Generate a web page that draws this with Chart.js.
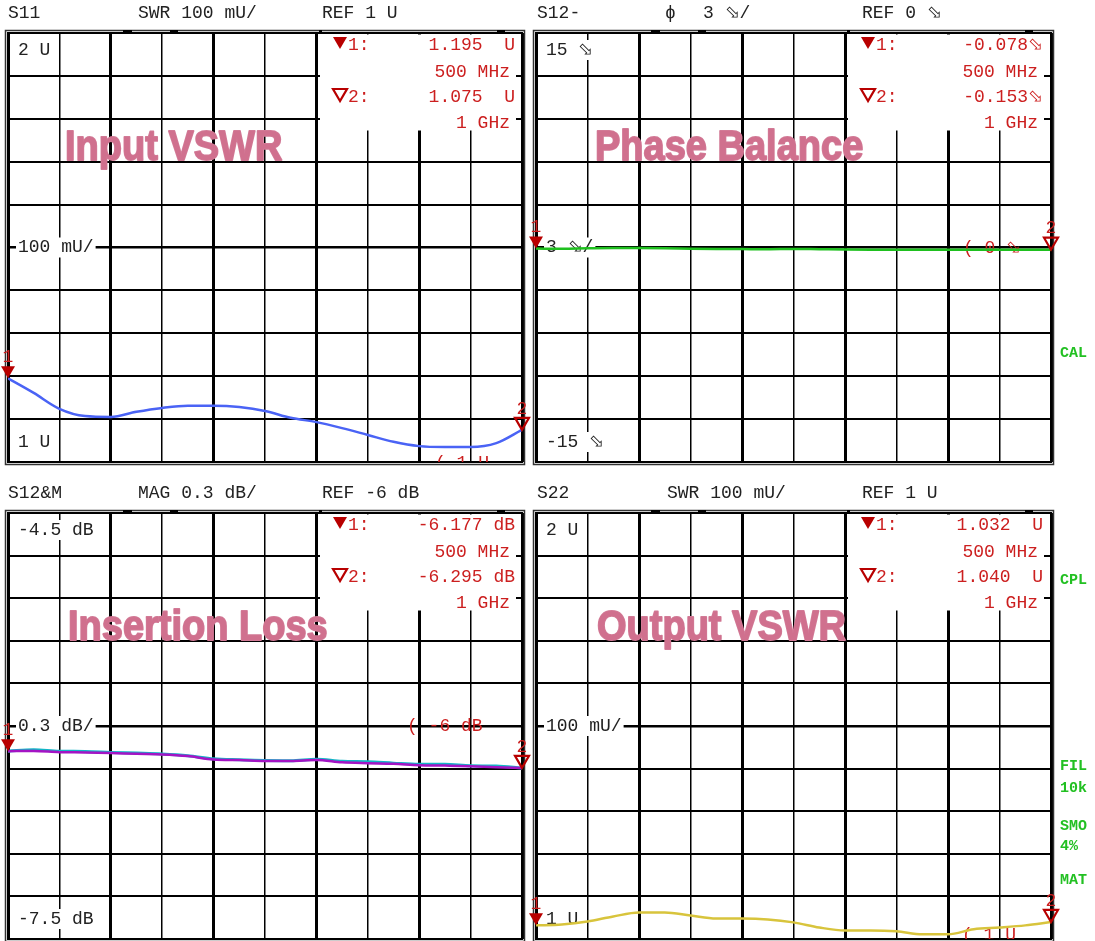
<!DOCTYPE html>
<html>
<head>
<meta charset="utf-8">
<script src="https://cdn.jsdelivr.net/npm/chart.js@4.4.1/dist/chart.umd.min.js"></script>
<style>
  html, body { margin: 0; padding: 0; background: #fff; overflow: hidden; }
  #wrap { position: relative; width: 1095px; height: 941px; }
  #wrap canvas { position: absolute; left: 0; top: 0; }
</style>
</head>
<body>
<div id="wrap">
  <canvas id="s11" width="1095" height="941"></canvas>
  <canvas id="s12ph" width="1095" height="941"></canvas>
  <canvas id="s12mag" width="1095" height="941"></canvas>
  <canvas id="s22" width="1095" height="941"></canvas>
</div>
<script>
const W = 1095, H = 941;

// sweep points (MHz)
const freqMHz = [500, 525, 550, 575, 600, 625, 650, 675, 700, 725, 750, 775, 800, 825, 850, 875, 900, 925, 950, 975, 1000];

// S11 input SWR (U)
const s11Swr = [1.195, 1.161, 1.124, 1.107, 1.105, 1.117, 1.126, 1.131, 1.131, 1.128, 1.119, 1.103, 1.093, 1.079, 1.063, 1.047, 1.037, 1.035, 1.035, 1.044, 1.075];
// S12 phase balance (deg)
const s12Phase = [-0.078, -0.09, -0.06, -0.04, -0.04, -0.05, -0.08, -0.10, -0.11, -0.12, -0.10, -0.12, -0.14, -0.15, -0.15, -0.15, -0.16, -0.16, -0.15, -0.16, -0.153];
// insertion loss (dB), two traces
const s12MagCyan = [-6.177, -6.168, -6.178, -6.179, -6.186, -6.191, -6.197, -6.209, -6.231, -6.238, -6.243, -6.244, -6.234, -6.249, -6.252, -6.262, -6.270, -6.270, -6.280, -6.282, -6.295];
const s12MagPurple = [-6.177, -6.176, -6.184, -6.186, -6.190, -6.196, -6.200, -6.212, -6.236, -6.240, -6.246, -6.246, -6.240, -6.256, -6.262, -6.266, -6.276, -6.279, -6.283, -6.290, -6.295];
// S22 output SWR (U)
const s22Swr = [1.032, 1.034, 1.041, 1.053, 1.062, 1.062, 1.055, 1.048, 1.048, 1.046, 1.039, 1.027, 1.020, 1.020, 1.018, 1.011, 1.011, 1.023, 1.027, 1.032, 1.040];

const deg = '\u2B02';
const mono = '"Liberation Mono", "Courier New", monospace';
const red = '#cc1f1f';
const darkRed = '#b80000';

// per panel texts
const panelInfo = {
  s11: {
    area: [8, 33, 522, 462],
    head: [['S11', 8], ['SWR 100 mU/', 138], ['REF 1 U', 322]],
    topLbl: '2 U', botLbl: '1 U', refLbl: '100 mU/',
    big: 'Input VSWR', bigX: 65,
    m1: '1.195  U', m2: '1.075  U',
    refInd: '( 1 U', refIndX: 435, refIndY: 463,
    side: []
  },
  s12ph: {
    area: [536, 33, 1051, 462],
    head: [['S12-', 537], ['\u03D5', 665], ['3 ' + deg + '/', 703], ['REF 0 ' + deg, 862]],
    topLbl: '15 ' + deg, botLbl: '-15 ' + deg, refLbl: '3 ' + deg + '/',
    big: 'Phase Balance', bigX: 595,
    m1: '-0.078' + deg, m2: '-0.153' + deg,
    refInd: '( 0 ' + deg, refIndX: 963, refIndY: 248,
    side: [['CAL', 1060, 353]]
  },
  s12mag: {
    area: [8, 513, 522, 939],
    head: [['S12&M', 8], ['MAG 0.3 dB/', 138], ['REF -6 dB', 322]],
    topLbl: '-4.5 dB', botLbl: '-7.5 dB', refLbl: '0.3 dB/',
    big: 'Insertion Loss', bigX: 68,
    m1: '-6.177 dB', m2: '-6.295 dB',
    refInd: '( -6 dB', refIndX: 407, refIndY: 726,
    side: []
  },
  s22: {
    area: [536, 513, 1051, 939],
    head: [['S22', 537], ['SWR 100 mU/', 667], ['REF 1 U', 862]],
    topLbl: '2 U', botLbl: '1 U', refLbl: '100 mU/',
    big: 'Output VSWR', bigX: 597,
    m1: '1.032  U', m2: '1.040  U',
    refInd: '( 1 U', refIndX: 962, refIndY: 935,
    side: [['CPL', 1060, 580], ['FIL', 1060, 766], ['10k', 1060, 788], ['SMO', 1060, 826], ['4%', 1060, 846], ['MAT', 1060, 880]]
  }
};

function label(ctx, s, x, y, color, align, bg) {
  ctx.font = '18px ' + mono;
  ctx.textAlign = align || 'left';
  ctx.textBaseline = 'middle';
  if (bg) {
    const w = ctx.measureText(s).width;
    const lx = align === 'right' ? x - w : x;
    ctx.fillStyle = '#fff';
    ctx.fillRect(lx - 2, y - 10, w + 4, 20);
  }
  ctx.fillStyle = color;
  ctx.fillText(s, x, y);
}

function tri(ctx, x, y, filled) {
  ctx.beginPath();
  ctx.moveTo(x, y);
  ctx.lineTo(x - 7, y - 12);
  ctx.lineTo(x + 7, y - 12);
  ctx.closePath();
  if (filled) { ctx.fillStyle = darkRed; ctx.fill(); }
  else { ctx.strokeStyle = darkRed; ctx.lineWidth = 2.2; ctx.stroke(); }
}

const vnaPanel = {
  id: 'vnaPanel',
  beforeDatasetsDraw(chart) {
    const p = panelInfo[chart.canvas.id];
    const ctx = chart.ctx, a = chart.chartArea;
    ctx.save();
    // frame
    ctx.strokeStyle = '#333';
    ctx.lineWidth = 1.5;
    ctx.strokeRect(a.left - 2.5, a.top - 2.5, a.right - a.left + 5, a.bottom - a.top + 5);
    ctx.strokeStyle = '#000';
    ctx.lineWidth = 2;
    ctx.strokeRect(a.left, a.top, a.right - a.left, a.bottom - a.top);
    // small dashes above the frame
    ctx.lineWidth = 2;
    [[115, 124], [162, 170], [311, 314], [489, 497]].forEach(d => {
      ctx.beginPath();
      ctx.moveTo(a.left + d[0], a.top - 2);
      ctx.lineTo(a.left + d[1], a.top - 2);
      ctx.stroke();
    });
    // header
    p.head.forEach(h => label(ctx, h[0], h[1], a.top - 20, '#222'));
    // big title
    ctx.save();
    ctx.translate(p.bigX, a.top + 127);
    ctx.scale(1, 1.12);
    ctx.font = 'bold 38px "Liberation Sans", Arial, sans-serif';
    ctx.textAlign = 'left';
    ctx.textBaseline = 'alphabetic';
    ctx.fillStyle = '#d0708e';
    ctx.strokeStyle = '#d27a96';
    ctx.lineWidth = 1.6;
    ctx.lineJoin = 'round';
    ctx.strokeText(p.big, 0, 0);
    ctx.fillText(p.big, 0, 0);
    ctx.restore();
    // scale labels
    const mid = (a.top + a.bottom) / 2;
    label(ctx, p.topLbl, a.left + 10, a.top + 17, '#222', 'left', true);
    label(ctx, p.botLbl, a.left + 10, a.bottom - 20, '#222', 'left', true);
    label(ctx, p.refLbl, a.left + 10, mid, '#222', 'left', true);
    // marker readout box
    ctx.fillStyle = '#fff';
    ctx.fillRect(a.left + 312, a.top + 1.5, 196, 96);
    tri(ctx, a.left + 332, a.top + 16, true);
    label(ctx, '1:', a.left + 340, a.top + 12, red);
    label(ctx, p.m1, a.left + 507, a.top + 12, red, 'right');
    label(ctx, '500 MHz', a.left + 502, a.top + 39, red, 'right');
    tri(ctx, a.left + 332, a.top + 68, false);
    label(ctx, '2:', a.left + 340, a.top + 64, red);
    label(ctx, p.m2, a.left + 507, a.top + 64, red, 'right');
    label(ctx, '1 GHz', a.left + 502, a.top + 90, red, 'right');
    // reference indicator, clipped to the grid
    ctx.save();
    ctx.beginPath();
    ctx.rect(a.left, a.top, a.right - a.left, a.bottom - a.top);
    ctx.clip();
    label(ctx, p.refInd, p.refIndX, p.refIndY, red);
    ctx.restore();
    // status words on the right edge
    p.side.forEach(s => {
      ctx.font = 'bold 15px ' + mono;
      ctx.textAlign = 'left';
      ctx.textBaseline = 'middle';
      ctx.fillStyle = '#22c022';
      ctx.fillText(s[0], s[1], s[2]);
    });
    ctx.restore();
  },
  afterDatasetsDraw(chart) {
    const ctx = chart.ctx;
    const meta = chart.getDatasetMeta(0);
    const p1 = meta.data[0], p2 = meta.data[meta.data.length - 1];
    ctx.save();
    tri(ctx, p1.x, p1.y, true);
    label(ctx, '1', p1.x, p1.y - 21, red, 'center');
    tri(ctx, p2.x, p2.y, false);
    label(ctx, '2', p2.x, p2.y - 21, red, 'center');
    ctx.restore();
  }
};

function makePanel(id, yMin, yMax, step, datasets) {
  const ar = panelInfo[id].area;
  new Chart(document.getElementById(id), {
    type: 'line',
    data: {
      datasets: datasets.map(d => ({
        data: freqMHz.map((f, i) => ({ x: f, y: d.values[i] })),
        borderColor: d.color,
        borderWidth: d.width || 2.5,
        pointRadius: 0,
        cubicInterpolationMode: 'monotone',
        fill: false
      }))
    },
    plugins: [vnaPanel],
    options: {
      responsive: false,
      animation: false,
      events: [],
      layout: { padding: { left: ar[0], top: ar[1], right: W - ar[2], bottom: H - ar[3] } },
      plugins: { legend: { display: false }, tooltip: { enabled: false } },
      scales: {
        x: {
          type: 'linear', min: 500, max: 1000,
          ticks: { display: false, stepSize: 50 },
          border: { display: false },
          grid: {
            drawTicks: false, color: '#000',
            lineWidth: c => (c.index % 2 === 0 ? 3 : 1.5)
          }
        },
        y: {
          type: 'linear', min: yMin, max: yMax,
          ticks: { display: false, stepSize: step },
          border: { display: false },
          grid: {
            drawTicks: false, color: '#000',
            lineWidth: c => (c.index === 5 ? 2.5 : 2)
          }
        }
      }
    }
  });
}

makePanel('s11', 1, 2, 0.1, [{ values: s11Swr, color: '#4a63f5' }]);
makePanel('s12ph', -15, 15, 3, [{ values: s12Phase, color: '#1fc01f' }]);
// first dataset is drawn on top
makePanel('s12mag', -7.5, -4.5, 0.3, [
  { values: s12MagPurple, color: '#a414c4', width: 2.5 },
  { values: s12MagCyan, color: '#13b5c6', width: 3 }
]);
makePanel('s22', 1, 2, 0.1, [{ values: s22Swr, color: '#d8c43c' }]);
</script>
</body>
</html>
